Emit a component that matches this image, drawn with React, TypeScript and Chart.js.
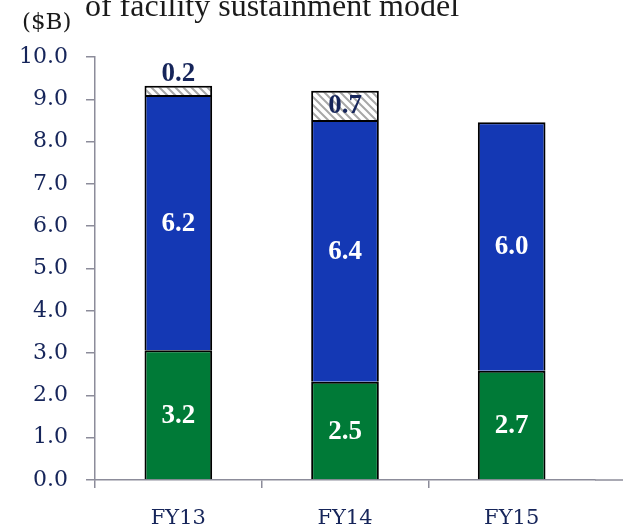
import React, { useEffect, useRef } from "react";
import { Chart, registerables } from "chart.js";

Chart.register(...registerables);

const categories = ["FY13", "FY14", "FY15"];
const greenValues = [3.07, 2.32, 2.58];
const blueValues = [6.03, 6.19, 5.88];
const hatchValues: (number | null)[] = [0.22, 0.69, null];
const greenLabels = ["3.2", "2.5", "2.7"];
const blueLabels = ["6.2", "6.4", "6.0"];
const hatchLabels = ["0.2", "0.7", ""];
const titleText = "of facility sustainment model";
const unitText = "($B)";

const NAVY = "#16255a";
const AXIS = "#8c8c9a";

function makeHatch(): CanvasPattern | string {
  const c = document.createElement("canvas");
  c.width = 8;
  c.height = 8;
  const g = c.getContext("2d");
  if (!g) return "#ddd";
  g.fillStyle = "#ffffff";
  g.fillRect(0, 0, 8, 8);
  g.strokeStyle = "#a8a8a8";
  g.lineWidth = 2;
  g.beginPath();
  g.moveTo(-2, -2);
  g.lineTo(10, 10);
  g.moveTo(-6, 2);
  g.lineTo(2, 10);
  g.moveTo(6, -2);
  g.lineTo(10, 2);
  g.stroke();
  const p = g.createPattern(c, "repeat");
  return p || "#ddd";
}

const labelPlugin = {
  id: "barLabels",
  afterDatasetsDraw(chart: any) {
    const ctx = chart.ctx;
    const texts = [greenLabels, blueLabels, hatchLabels];
    ctx.save();
    ctx.textAlign = "center";
    ctx.textBaseline = "middle";
    ctx.font = "bold 27px 'Liberation Serif'";
    chart.data.datasets.forEach((ds: any, di: number) => {
      const meta = chart.getDatasetMeta(di);
      meta.data.forEach((bar: any, i: number) => {
        const t = texts[di][i];
        if (!t) return;
        const top = Math.min(bar.y, bar.base);
        const h = Math.abs(bar.base - bar.y);
        let y = top + h / 2;
        if (di === 2) {
          ctx.fillStyle = NAVY;
          if (h < 20) y = top - 13;
        } else {
          ctx.fillStyle = "#ffffff";
        }
        ctx.fillText(t, bar.x, y + 1);
      });
    });
    ctx.restore();
  },
  afterDraw(chart: any) {
    const ctx = chart.ctx;
    const a = chart.chartArea;
    ctx.save();
    ctx.strokeStyle = AXIS;
    ctx.lineWidth = 1.5;
    ctx.beginPath();
    ctx.moveTo(a.right, a.bottom);
    ctx.lineTo(chart.width, a.bottom);
    ctx.stroke();
    ctx.fillStyle = "#1a1a1a";
    ctx.textBaseline = "alphabetic";
    ctx.textAlign = "center";
    ctx.font = "32px 'Liberation Serif'";
    ctx.fillText(titleText, 272, 16);
    ctx.textAlign = "left";
    ctx.font = "23px 'DejaVu Serif'";
    ctx.fillText(unitText, 22, 29);
    ctx.restore();
  },
};

export default function App() {
  const ref = useRef<HTMLCanvasElement>(null);
  useEffect(() => {
    if (!ref.current) return;
    const hatch = makeHatch();
    const common = {
      borderColor: "#000000",
      borderWidth: 2,
      borderSkipped: "start",
      categoryPercentage: 1,
      barPercentage: 0.406,
    };
    const chart = new Chart(ref.current, {
      type: "bar",
      data: {
        labels: categories,
        datasets: [
          { label: "green", data: greenValues, backgroundColor: "#007a37", ...common },
          { label: "blue", data: blueValues, backgroundColor: "#1438b4", ...common },
          { label: "hatch", data: hatchValues, backgroundColor: hatch, ...common },
        ],
      },
      options: {
        animation: false,
        responsive: false,
        maintainAspectRatio: false,
        layout: { padding: { top: 57, right: 28, left: 0, bottom: 0 } },
        plugins: { legend: { display: false }, tooltip: { enabled: false }, title: { display: false } },
        scales: {
          x: {
            stacked: true,
            offset: true,
            grid: {
              offset: true,
              drawOnChartArea: false,
              drawTicks: true,
              tickLength: 8,
              lineWidth: 1.5,
              color: (c: any) => (c.index === undefined || c.index >= 3 ? "rgba(0,0,0,0)" : AXIS),
            },
            border: { color: AXIS, width: 1.5 },
            ticks: { color: NAVY, font: { family: "'DejaVu Serif'", size: 21 }, padding: 18 },
            afterFit: (s: any) => { s.height = 50; },
          },
          y: {
            stacked: true,
            min: 0,
            max: 10,
            grid: { drawOnChartArea: false, drawTicks: true, tickLength: 9, lineWidth: 1.5, color: AXIS },
            border: { color: AXIS, width: 1.5 },
            ticks: {
              stepSize: 1,
              color: NAVY,
              padding: 18,
              font: { family: "'DejaVu Serif'", size: 22 },
              callback: (v: any) => Number(v).toFixed(1),
            },
            afterFit: (s: any) => { s.width = 95; },
          },
        },
      },
      plugins: [labelPlugin],
    } as any);
    return () => chart.destroy();
  }, []);
  return (
    <div style={{ position: "fixed", left: 0, top: 0, width: 623, height: 530, background: "#fff" }}>
      <canvas ref={ref} width={623} height={530} style={{ width: 623, height: 530, display: "block" }} />
    </div>
  );
}
